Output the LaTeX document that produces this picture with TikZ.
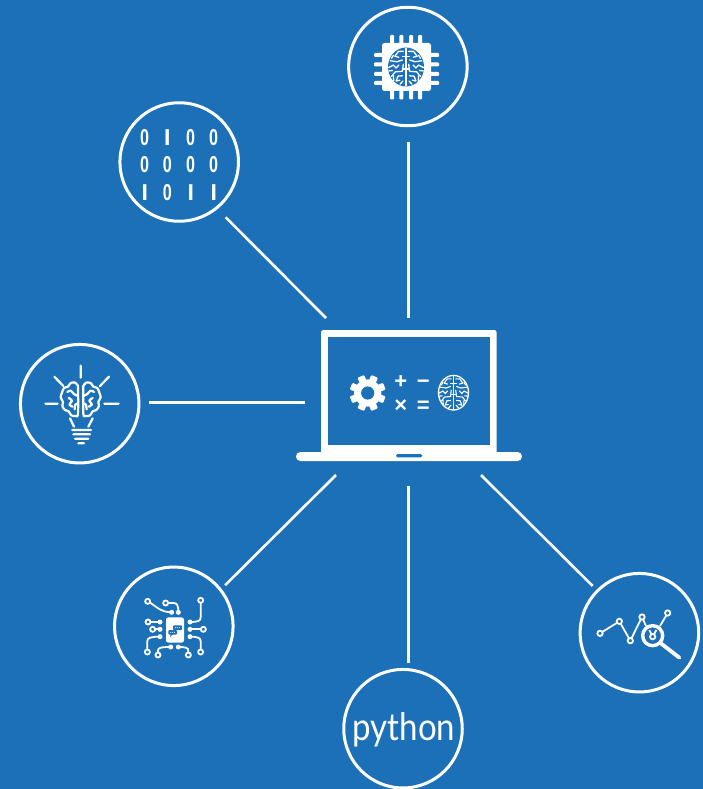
\documentclass[tikz,border=0pt]{standalone}
\usepackage{fontspec}
\newfontfamily\pyfont{Lato}
\newfontfamily\opfont{Liberation Sans Bold}
\newfontfamily\binfont{Liberation Sans Bold}
\definecolor{bg}{HTML}{1C70B8}
\tikzset{
  icon/.style={circle,draw=white,line width=3pt,minimum size=118.5pt,inner sep=0pt,outer sep=0pt},
  link/.style={draw=white,line width=2.6pt},
  wht/.style={draw=white,line width=2.2pt,line cap=round,line join=round},
  open/.style={draw=white,fill=bg,line width=1.8pt},
  bit/.style={text=white,inner sep=0pt,font=\binfont\fontsize{23}{23}\selectfont},
  op/.style={text=white,inner sep=0pt,anchor=base,font=\opfont\fontsize{22}{22}\selectfont},
  zoomed/.style={shift={#1},x=0.33333pt,y=-0.33333pt}
}
\newcommand{\mazebrain}[6]{%
  \begin{scope}[shift={(#1,#2)},x=#3pt,y=-#4pt,draw=#5,line width=#6pt,line cap=round,line join=round]
    \draw (0,-.95) -- (0,.95) (-.2,-.55) -- (.2,-.55) (-.15,.1) -- (.15,.1);
    \foreach \s in {1,-1}{
      \begin{scope}[xscale=\s]
        \draw (-.15,-.8) -- (-.42,-.8) -- (-.62,-.55) -- (-.4,-.5);
        \draw (-.88,-.32) -- (-.5,-.27) -- (-.2,-.36);
        \draw (-.7,-.6) -- (-.8,-.45);
        \draw (-.97,.03) -- (-.7,-.1) -- (-.55,.05) -- (-.4,-.1);
        \draw (-.15,-.14) -- (-.2,.22) -- (-.6,.25) -- (-.8,.48);
        \draw (-.95,.2) -- (-.75,.18);
        \draw (-.2,.45) -- (-.45,.47) -- (-.55,.72) -- (-.35,.68);
        \draw (-.7,.45) -- (-.68,.72);
        \draw (-.17,.72) -- (-.33,.88);
      \end{scope}
    }
  \end{scope}}
\begin{document}
\begin{tikzpicture}[x=1pt,y=-1pt]
\useasboundingbox (0,0) rectangle (703,789);
\fill[bg] (0,0) rectangle (703,789);

% circles
\node[icon] (cpu) at (407.9,66.5) {};
\node[icon] (bin) at (179.2,162) {};
\node[icon] (bulb) at (79.7,403.7) {};
\node[icon] (circ) at (173.8,626.3) {};
\node[icon] (chart) at (639.4,632.7) {};
\node[icon] (py) at (403,728.7) {};

% connectors
\coordinate (hubN) at (408.4,318);
\coordinate (hubW) at (305,402.7);
\coordinate (hubS) at (408.4,486);
\coordinate (hubNW) at (326,318);
\coordinate (hubSW) at (336,475);
\coordinate (hubSE) at (481,475);
\draw[link,shorten >=16pt] (hubN) -- (hubN |- cpu.south);
\draw[link,shorten >=10.5pt] (hubW) -- (hubW -| bulb.east);
\draw[link,shorten >=6.5pt] (hubS) -- (hubS |- py.north);
\draw[link,shorten <=13pt] (bin.-51) -- (hubNW);
\draw[link,shorten <=6.6pt] (circ.38) -- (hubSW);
\draw[link,shorten <=6.8pt] (chart.135) -- (hubSE);

% laptop
\fill[white,rounded corners=2.5pt] (321,330) rectangle (496.7,456);
\fill[bg] (327.7,336.7) rectangle (490,445.3);
\fill[white,rounded corners=4.4pt] (296,452) rectangle (522,461);
\fill[bg,rounded corners=1.6pt] (396,454) rectangle (422.3,457.4);
% gear
\begin{scope}[shift={(367.7,393)}]
  \fill[white] (0,0) circle (13.6);
  \foreach \a in {0,45,...,315}{
    \fill[white,rotate=\a+22.5,rounded corners=1pt] (-3.6,-18) rectangle (3.6,-8);
  }
  \fill[bg] (0,0) circle (6.6);
\end{scope}
\node[op] (plus) at (400.7,388.6) {+};
\node[op] (minus) at (423.3,388.6) {−};
\node[op] (times) at (400.7,412) {×};
\node[op] (equal) at (423.3,412) {=};
% laptop brain
\draw[white,line width=1.3pt] (453.5,392.7) ellipse (15 and 17.3);
\mazebrain{453.5}{392.7}{15}{17.3}{white}{1.1}

% cpu icon
\foreach \p in {392,401.3,411,420}{
  \fill[white,rounded corners=1pt] (\p-2,35) rectangle (\p+2,99.5);
  \fill[white,rounded corners=1pt] (374,\p-339) rectangle (439,\p-335);
}
\fill[white,rounded corners=2.5pt] (382,43) rectangle (431,91);
\fill[bg] (406,67) ellipse (18 and 19.5);
\mazebrain{406}{67}{18}{19.5}{white}{1.3}

% binary
\foreach \n/\x/\y/\t in {
  a/144.7/137.3/0,b/167.3/137.3/1,c/190.7/137.3/0,d/213.7/137.3/0,
  e/144.7/165/0,f/167.3/165/0,g/190.7/165/0,h/213.7/165/0,
  i/144.7/192.7/1,j/167.3/192.7/0,k/190.7/192.7/1,l/213.7/192.7/1}{
  \ifnum\t=0
    \node[bit] (bit\n) at (\x,\y) {\scalebox{.7}[1]{0}};
  \else
    \node[bit] (bit\n) at (\x,\y) {I};
  \fi
}

% bulb
\begin{scope}[zoomed={(10,335)}]
  \draw[wht] (212,92) -- (212,128) (133,125) -- (160,153) (297,125) -- (270,153)
    (106,206) -- (143,206) (283,206) -- (326,206)
    (180,250) -- (192,275) (248,250) -- (235,275)
    (187,285) -- (243,285) (190,298) -- (240,298) (195,311) -- (235,311) (205,325) -- (222,325);
  \foreach \s in {1,-1}{
    \begin{scope}[shift={(212,195)},xscale=\s]
      \draw[wht] plot[smooth,tension=.6] coordinates {(-8,-42) (-16,-52) (-30,-51) (-38,-40) (-50,-36) (-56,-22) (-60,-8) (-53,6) (-55,18) (-47,30) (-36,34) (-28,46) (-15,48) (-8,40) (-8,-42)};
      \draw[wht] plot[smooth,tension=.6] coordinates {(-8,-12) (-20,-18) (-30,-28) (-40,-24)};
      \draw[wht] plot[smooth,tension=.6] coordinates {(-36,-6) (-26,2) (-34,14) (-24,20)};
      \draw[wht] plot[smooth,tension=.6] coordinates {(-8,10) (-16,14) (-18,28)};
    \end{scope}
  }
\end{scope}

% circuit
\begin{scope}[zoomed={(105,560)}]
  \foreach \p in {
    {(128,124) .. controls (150,135) and (165,157) .. (200,157)},
    {(182,129) -- (205,129) .. controls (216,129) and (220,135) .. (220,157)},
    {(287,121) -- (287,172) .. controls (287,182) and (280,186) .. (255,186)},
    {(129,186) -- (165,186)},
    {(143,208) -- (165,208)},
    {(295,208) -- (255,208)},
    {(127,276) -- (127,244) .. controls (127,234) and (135,230) .. (165,230)},
    {(287,276) -- (287,244) .. controls (287,234) and (279,230) .. (255,230)},
    {(159,285) -- (159,272) .. controls (159,264) and (165,261) .. (197,261)},
    {(250,285) -- (250,272) .. controls (250,264) and (244,261) .. (220,261)}}{
    \draw[draw=white,line width=1.8pt,line cap=round] \p;
  }
  \foreach \x/\y in {128/124,182/129,287/121,129/186,143/208,295/208,127/276,287/276,159/285,250/285}{
    \draw[open] (\x,\y) circle (7.5);
  }
  \foreach \x/\y in {200/157,220/157,255/186,165/186,165/208,255/208,165/230,255/230,197/261,220/261}{
    \fill[white] (\x,\y) circle (7.5);
  }
  \fill[white,rounded corners=2.5pt] (183,172) rectangle (237,248);
  \fill[bg,rounded corners=1pt] (204,196) rectangle (231,210);
  \fill[bg] (208,208) -- (214,208) -- (206,214) -- cycle;
  \fill[bg,rounded corners=1pt] (190,210) rectangle (216,224);
  \fill[bg] (197,222) -- (204,222) -- (195,231) -- cycle;
  \foreach \x in {211,217,223}{\fill[white] (\x,203) circle (1.7);}
  \foreach \x in {197,203,209}{\fill[white] (\x,217) circle (1.7);}
\end{scope}

% chart
\begin{scope}[zoomed={(570,565)}]
  \draw[draw=white,line width=1.8pt] (90,205) -- (148,169) -- (181,227) -- (216,156) -- (228,183)
    (270,183) -- (293,144) (238,195) -- (248,215) -- (259,195);
  \foreach \x/\y in {90/205,148/169,181/227,216/156,293/144,248/215}{
    \draw[open] (\x,\y) circle (8);
  }
  \draw[draw=white,line width=3.4pt] (248,212) circle (30);
  \draw[draw=white,line width=3.8pt,line cap=round] (274,236) -- (328,278);
\end{scope}

% python
\node[text=white,inner sep=0pt,anchor=base,font=\pyfont\fontsize{38}{38}\selectfont] (pytext) at (404,740) {\scalebox{.87}[1]{python}};

\end{tikzpicture}
\end{document}
